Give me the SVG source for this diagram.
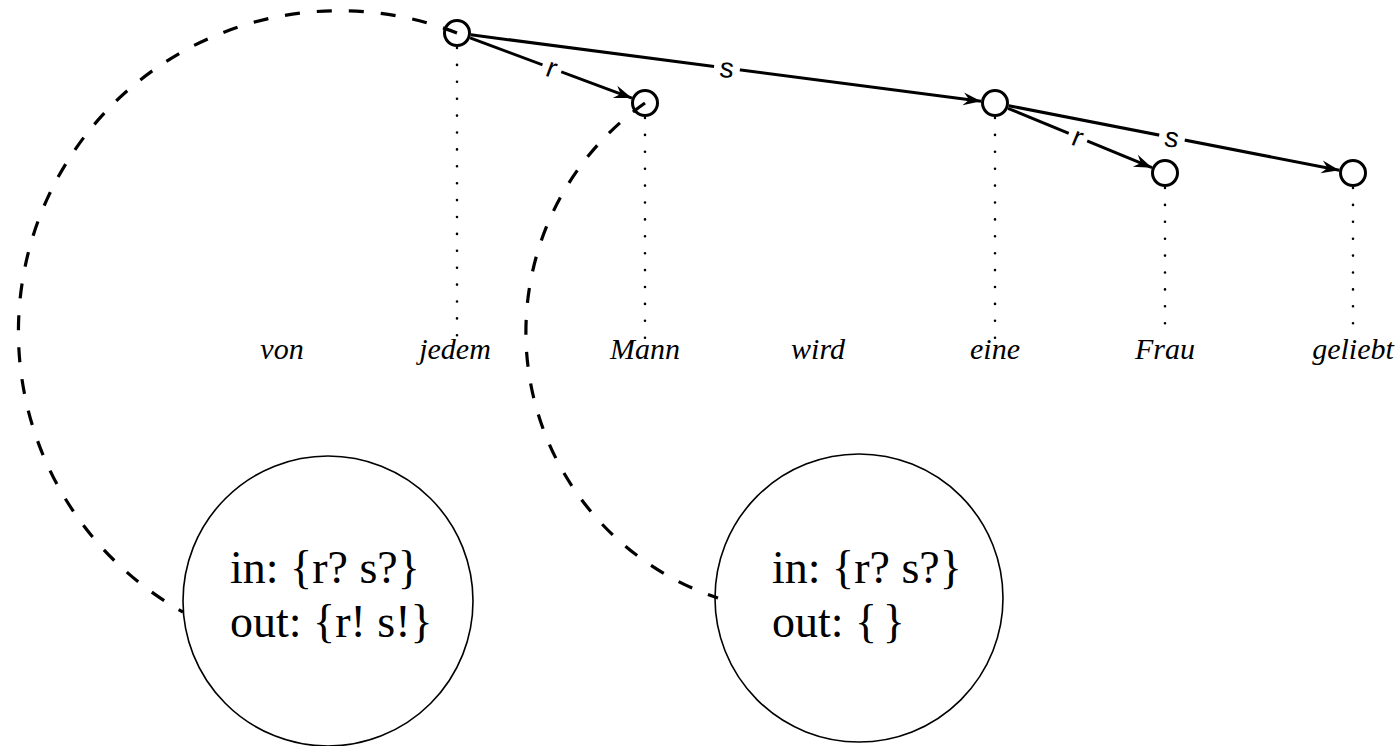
<svg xmlns="http://www.w3.org/2000/svg" width="1400" height="746" viewBox="0 0 1400 746">
<defs>
<marker id="arr" markerUnits="userSpaceOnUse" markerWidth="24" markerHeight="16" viewBox="-20 -8 22 16" refX="0" refY="0" orient="auto">
<path d="M0,0 L-18,-6.5 L-12,0 L-18,6.5 Z" fill="#000"/>
</marker>
</defs>
<style>
.node{fill:none;stroke:#000;stroke-width:3}
.edge{fill:none;stroke:#000;stroke-width:3}
.dot{fill:none;stroke:#000;stroke-width:2.6;stroke-linecap:round;stroke-dasharray:0 16.9}
.dash{fill:none;stroke:#000;stroke-width:3.2;stroke-dasharray:15 17}
.big{fill:none;stroke:#000;stroke-width:1.6}
.word{font-family:"Liberation Serif",serif;font-style:italic;font-size:30px;text-anchor:middle;fill:#000}
.lab{font-family:"Liberation Sans",sans-serif;font-size:28px;text-anchor:middle;dominant-baseline:central;fill:#000}
.set{font-family:"Liberation Serif",serif;font-size:46px;fill:#000}
.bg{fill:#fff}
</style>
<g id="projections">
<line class="dot" x1="457" y1="48" x2="457" y2="338"/>
<line class="dot" x1="645" y1="118" x2="645" y2="338"/>
<line class="dot" x1="995" y1="118" x2="995" y2="338"/>
<line class="dot" x1="1165" y1="188" x2="1165" y2="338"/>
<line class="dot" x1="1353" y1="188" x2="1353" y2="338"/>
</g>
<g id="connectors">
<path class="dash" d="M457,33 A321,321 0 0 0 183,612"/>
<path class="dash" d="M645,103 A280,280 0 0 0 718,598"/>
<line class="edge" x1="470.1" y1="37.9" x2="631.9" y2="98.1" marker-end="url(#arr)"/>
<line class="edge" x1="470.9" y1="34.8" x2="981.1" y2="101.2" marker-end="url(#arr)"/>
<line class="edge" x1="1008" y1="108.3" x2="1152" y2="167.7" marker-end="url(#arr)"/>
<line class="edge" x1="1008.7" y1="105.7" x2="1339.3" y2="170.3" marker-end="url(#arr)"/>
<g transform="translate(552,68) rotate(20.4)"><rect class="bg" x="-10" y="-13" width="20" height="26"/><text class="lab" x="0" y="0">r</text></g>
<g transform="translate(727,68) rotate(7.4)"><rect class="bg" x="-13" y="-13" width="26" height="26"/><text class="lab" x="0" y="0">s</text></g>
<g transform="translate(1078,137) rotate(22.4)"><rect class="bg" x="-10" y="-13" width="20" height="26"/><text class="lab" x="0" y="0">r</text></g>
<g transform="translate(1172,137.6) rotate(11.1)"><rect class="bg" x="-13" y="-13" width="26" height="26"/><text class="lab" x="0" y="0">s</text></g>
</g>
<g id="n-jedem"><circle class="node" cx="457" cy="33" r="12.5"/></g>
<g id="n-mann"><circle class="node" cx="645" cy="103" r="12.5"/></g>
<g id="n-eine"><circle class="node" cx="995" cy="103" r="12.5"/></g>
<g id="n-frau"><circle class="node" cx="1165" cy="173" r="12.5"/></g>
<g id="n-geliebt"><circle class="node" cx="1353" cy="173" r="12.5"/></g>
<g id="words">
<text class="word" x="282" y="359">von</text>
<text class="word" x="455" y="359">jedem</text>
<text class="word" x="645" y="359">Mann</text>
<text class="word" x="818" y="359">wird</text>
<text class="word" x="995" y="359">eine</text>
<text class="word" x="1165" y="359">Frau</text>
<text class="word" x="1353" y="359">geliebt</text>
</g>
<g id="box-left">
<circle class="big" cx="328" cy="601" r="145"/>
<text class="set" x="230" y="583">in: {r? s?}</text>
<text class="set" x="230" y="637">out: {r! s!}</text>
</g>
<g id="box-right">
<circle class="big" cx="859" cy="598" r="144"/>
<text class="set" x="772" y="583">in: {r? s?}</text>
<text class="set" x="772" y="637">out: {<tspan dx="-6"> </tspan>}</text>
</g>
</svg>
